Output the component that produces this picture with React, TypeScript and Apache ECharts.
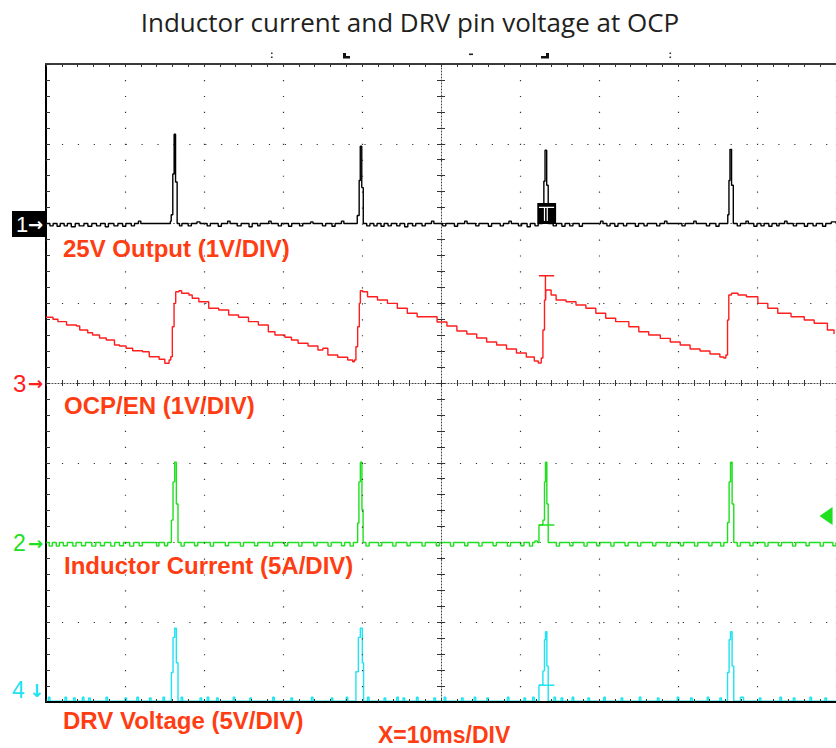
import React, { useEffect, useRef } from "react";
import * as echarts from "echarts";

// Time axis (ms, relative to screen centre) and vertical axis (divisions, centre = 0)
const TIME_MIN = -50;
const TIME_MAX = 50;
const TIME_DIV = 10;
const VDIV_MIN = -4;
const VDIV_MAX = 4;

const TITLE = "Inductor current and DRV pin voltage at OCP";
const CHANNEL_LABELS = [
  "25V Output (1V/DIV)",
  "OCP/EN (1V/DIV)",
  "Inductor Current (5A/DIV)",
  "DRV Voltage (5V/DIV)",
];
const TIMEBASE_LABEL = "X=10ms/DIV";

// Channel 1: 25V output (baseline at +2 div)
const ch1Output: number[][] = [
  [-50.0, 2.0], [-49.5, 1.97], [-49.1, 2.0], [-48.6, 1.965], [-48.2, 2.0], [-47.7, 1.97], [-47.3, 2.0],
  [-46.8, 1.96], [-46.3, 2.0], [-45.8, 1.97], [-45.2, 2.0], [-44.7, 1.965], [-44.2, 2.0], [-43.6, 1.97],
  [-43.1, 2.0], [-42.5, 1.96], [-42.1, 2.0], [-41.4, 1.97], [-40.9, 2.0], [-40.3, 1.965], [-39.9, 2.0],
  [-39.2, 1.97], [-38.8, 2.0], [-38.3, 2.03], [-38.0, 2.0],
  [-34.25, 2.03], [-34.15, 2.11], [-33.95, 2.62], [-33.78, 3.12], [-33.6, 2.52], [-33.4, 2.0],
  [-33.1, 1.97], [-32.8, 2.0], [-32.0, 1.97], [-31.6, 2.0], [-30.9, 2.02], [-30.5, 2.0], [-29.6, 1.97],
  [-29.2, 2.0], [-28.2, 1.965], [-27.8, 2.0], [-27.0, 2.03], [-26.7, 2.0], [-25.8, 1.97], [-25.3, 2.0],
  [-24.3, 1.96], [-23.9, 2.0], [-23.2, 1.97], [-22.9, 2.0], [-21.8, 2.03], [-21.5, 2.0], [-20.6, 1.97],
  [-20.2, 2.0], [-19.3, 1.965], [-18.9, 2.0], [-17.9, 1.97], [-17.5, 2.0], [-16.5, 2.02], [-16.2, 2.0],
  [-15.0, 1.97], [-14.6, 2.0], [-13.8, 1.965], [-13.4, 2.0], [-12.6, 2.03], [-12.3, 2.0],
  [-10.6, 2.1], [-10.36, 2.54], [-10.22, 2.97], [-10.03, 2.45], [-9.84, 2.0],
  [-9.4, 1.97], [-9.0, 2.0], [-8.5, 1.97], [-8.1, 2.0], [-7.6, 1.965], [-7.2, 2.0], [-6.7, 1.97],
  [-6.3, 2.0], [-5.6, 1.97], [-5.2, 2.0], [-4.6, 1.96], [-4.2, 2.0], [-3.6, 1.97], [-3.2, 2.0],
  [-2.4, 1.97], [-2.0, 2.0], [-1.2, 2.03], [-0.9, 2.0], [0.2, 1.97], [0.6, 2.0], [1.7, 1.965], [2.1, 2.0],
  [3.0, 2.03], [3.3, 2.0], [4.4, 1.97], [4.8, 2.0], [6.0, 1.965], [6.4, 2.0], [7.5, 1.97], [7.9, 2.0],
  [8.6, 2.03], [8.9, 2.0], [9.8, 1.97], [10.2, 2.0], [10.9, 1.96], [11.3, 2.0], [11.9, 1.97], [12.3, 2.0],
  [12.85, 2.1], [13.02, 2.53], [13.17, 2.92], [13.38, 2.48], [13.57, 2.0],
  [14.2, 1.97], [14.6, 2.0], [15.3, 1.965], [15.7, 2.0], [16.3, 1.97], [16.7, 2.0], [17.5, 1.965],
  [17.9, 2.0], [20.2, 2.03], [20.5, 2.0], [21.0, 1.97], [21.4, 2.0], [22.0, 1.965], [22.4, 2.0],
  [23.1, 1.97], [23.5, 2.0], [24.6, 1.965], [25.0, 2.0], [25.7, 1.97], [26.1, 2.0], [27.3, 1.97],
  [27.7, 2.0], [28.3, 2.03], [28.6, 2.0], [30.5, 1.97], [30.9, 2.0], [32.0, 2.03], [32.3, 2.0],
  [33.6, 1.97], [34.0, 2.0], [34.8, 1.965], [35.2, 2.0],
  [36.3, 2.11], [36.45, 2.54], [36.58, 2.93], [36.78, 2.48], [37.0, 2.0],
  [37.5, 1.97], [37.9, 2.0], [38.6, 2.03], [38.9, 2.0], [39.6, 1.965], [40.0, 2.0], [40.5, 1.97],
  [40.9, 2.0], [41.5, 1.965], [41.9, 2.0], [42.5, 1.97], [42.8, 2.0], [43.5, 2.03], [43.8, 2.0],
  [44.6, 1.97], [45.0, 2.0], [46.0, 1.965], [46.4, 2.0], [47.1, 1.97], [47.5, 2.0], [48.3, 1.965],
  [48.7, 2.0], [49.4, 2.02], [50.0, 2.0],
];

// Channel 3: OCP/EN sawtooth (baseline at 0 div)
const ch3OcpEn: number[][] = [
  [-50.0, 0.824], [-49.12, 0.799], [-48.49, 0.769], [-47.4, 0.727], [-46.14, 0.715], [-45.73, 0.665],
  [-44.72, 0.631], [-44.1, 0.602], [-43.22, 0.564], [-42.37, 0.539], [-41.33, 0.476], [-40.7, 0.464],
  [-39.86, 0.435], [-39.03, 0.405], [-37.78, 0.392], [-36.93, 0.33], [-35.68, 0.297], [-34.96, 0.247],
  [-34.42, 0.288], [-34.21, 0.33], [-34.01, 0.706], [-33.79, 0.999], [-33.58, 1.145], [-33.17, 1.157],
  [-32.83, 1.125], [-31.91, 1.103], [-31.49, 1.062], [-30.65, 1.019], [-29.4, 0.937], [-28.14, 0.915],
  [-26.88, 0.853], [-25.63, 0.824], [-24.37, 0.769], [-23.12, 0.727], [-21.86, 0.643], [-21.02, 0.602],
  [-19.76, 0.573], [-18.93, 0.539], [-18.09, 0.498], [-16.83, 0.464], [-15.58, 0.414], [-14.95, 0.435],
  [-14.32, 0.351], [-13.07, 0.322], [-11.81, 0.288], [-11.18, 0.267], [-10.97, 0.288], [-10.77, 0.455],
  [-10.55, 0.706], [-10.34, 0.999], [-10.21, 1.157], [-9.92, 1.145], [-9.3, 1.082], [-8.04, 1.041],
  [-6.78, 0.999], [-5.53, 0.937], [-4.27, 0.874], [-3.02, 0.831], [-0.5, 0.765], [0.75, 0.715],
  [2.01, 0.652], [3.27, 0.614], [4.52, 0.564], [5.78, 0.514], [7.04, 0.476], [8.29, 0.426],
  [9.55, 0.376], [10.8, 0.326], [11.81, 0.276], [12.31, 0.251], [12.69, 0.313], [12.9, 0.665],
  [13.1, 1.041], [13.25, 1.145], [13.32, 1.166], [13.94, 1.103], [14.57, 1.041], [15.83, 1.019],
  [17.09, 0.978], [18.34, 0.937], [19.6, 0.874], [20.85, 0.811], [22.11, 0.769], [23.78, 0.706],
  [25.04, 0.643], [26.29, 0.602], [27.76, 0.56], [29.02, 0.514], [30.28, 0.476], [31.53, 0.426],
  [32.79, 0.401], [34.05, 0.364], [35.3, 0.326], [35.8, 0.313], [36.06, 0.351], [36.27, 0.79],
  [36.43, 1.103], [36.77, 1.125], [37.6, 1.103], [38.66, 1.082], [40.11, 0.999], [41.37, 0.937],
  [42.63, 0.874], [44.31, 0.831], [45.98, 0.79], [47.24, 0.749], [48.91, 0.665], [49.75, 0.614],
];

// Channel 2: inductor current (baseline at -2 div)
const ch2Current: number[][] = [
  [-50.0, -2.0], [-49.6, -2.045], [-49.2, -2.0], [-48.7, -2.045], [-48.3, -2.0], [-47.8, -2.04], [-47.3, -2.0],
  [-46.6, -2.045], [-46.2, -2.0], [-45.5, -2.04], [-45.0, -2.0], [-44.2, -2.045], [-43.7, -2.0], [-43.1, -2.04],
  [-42.6, -2.0], [-41.8, -2.045], [-41.3, -2.0], [-40.7, -2.04], [-40.2, -2.0], [-39.4, -2.045], [-38.9, -2.0],
  [-38.2, -2.04], [-37.8, -2.0], [-36.0, -2.045], [-35.7, -2.0], [-35.0, -2.04], [-34.6, -2.0],
  [-34.13, -1.72], [-33.92, -1.24], [-33.71, -0.994], [-33.5, -1.517], [-33.29, -2.0],
  [-32.9, -2.045], [-32.5, -2.0], [-31.2, -2.04], [-30.8, -2.0], [-29.2, -2.045], [-28.8, -2.0], [-27.3, -2.04],
  [-26.9, -2.0], [-25.4, -2.045], [-25.0, -2.0], [-23.6, -2.04], [-23.2, -2.0], [-21.7, -2.045], [-21.3, -2.0],
  [-19.8, -2.04], [-19.4, -2.0], [-18.0, -2.045], [-17.6, -2.0], [-16.1, -2.04], [-15.7, -2.0], [-14.3, -2.045],
  [-13.9, -2.0], [-12.6, -2.04], [-12.2, -2.0], [-11.5, -2.045], [-11.1, -2.0],
  [-10.55, -1.755], [-10.39, -1.24], [-10.21, -0.994], [-10.01, -1.59], [-9.86, -2.0],
  [-9.5, -2.045], [-9.1, -2.0], [-7.9, -2.04], [-7.5, -2.0], [-6.1, -2.045], [-5.7, -2.0], [-4.3, -2.04],
  [-3.9, -2.0], [-2.4, -2.045], [-2.0, -2.0], [-0.6, -2.04], [-0.2, -2.0], [1.2, -2.045], [1.6, -2.0],
  [3.0, -2.04], [3.4, -2.0], [4.8, -2.045], [5.2, -2.0], [6.6, -2.04], [7.0, -2.0], [8.4, -2.045], [8.8, -2.0],
  [10.1, -2.04], [10.5, -2.0], [11.2, -2.045], [11.6, -2.0], [11.9, -1.98], [12.2, -2.0],
  [12.4, -1.78], [12.9, -1.72], [13.1, -1.24], [13.23, -0.994], [13.4, -1.517], [13.57, -2.0],
  [14.6, -2.045], [15.0, -2.0], [16.3, -2.04], [16.7, -2.0], [18.1, -2.045], [18.5, -2.0], [19.7, -2.04],
  [20.1, -2.0], [21.5, -2.045], [21.9, -2.0], [23.3, -2.04], [23.7, -2.0], [24.9, -2.045], [25.3, -2.0],
  [26.8, -2.04], [27.2, -2.0], [28.6, -2.045], [29.0, -2.0], [30.3, -2.04], [30.7, -2.0], [32.1, -2.045],
  [32.5, -2.0], [33.9, -2.04], [34.3, -2.0], [35.4, -2.045], [35.8, -2.0],
  [36.27, -1.75], [36.47, -1.24], [36.65, -0.994], [36.85, -1.517], [37.06, -2.0],
  [37.5, -2.045], [37.9, -2.0], [39.1, -2.04], [39.5, -2.0], [41.0, -2.045], [41.4, -2.0], [42.7, -2.04],
  [43.1, -2.0], [44.5, -2.045], [44.9, -2.0], [46.2, -2.04], [46.6, -2.0], [48.0, -2.045], [48.4, -2.0],
  [49.6, -2.04], [50.0, -2.0],
];

// Channel 4: DRV voltage (baseline just above the bottom edge)
const ch4Drv: number[][] = [
  [-50.0, -3.99], [-49.7, -3.94], [-49.5, -3.99], [-47.6, -3.94], [-47.4, -3.99], [-46.5, -3.95], [-46.3, -3.99],
  [-45.4, -3.94], [-45.2, -3.99], [-44.6, -3.95], [-44.4, -3.99], [-42.4, -3.94], [-42.2, -3.99], [-40.0, -3.95],
  [-39.8, -3.99], [-38.5, -3.94], [-38.3, -3.99], [-36.9, -3.95], [-36.7, -3.99], [-35.2, -3.94], [-35.0, -3.99],
  [-34.13, -3.63], [-33.92, -3.19], [-33.71, -3.076], [-33.5, -3.507], [-33.29, -3.99],
  [-32.9, -3.94], [-32.7, -3.99], [-30.5, -3.95], [-30.3, -3.99], [-29.6, -3.94], [-29.4, -3.99], [-28.4, -3.95],
  [-28.2, -3.99], [-26.3, -3.94], [-26.1, -3.99], [-24.2, -3.95], [-24.0, -3.99], [-21.3, -3.94], [-21.1, -3.99],
  [-19.0, -3.95], [-18.8, -3.99], [-16.4, -3.94], [-16.2, -3.99], [-13.9, -3.95], [-13.7, -3.99], [-12.0, -3.94],
  [-11.8, -3.99],
  [-10.77, -3.62], [-10.46, -3.19], [-10.21, -3.076], [-9.96, -3.507], [-9.8, -3.99],
  [-9.3, -3.94], [-9.1, -3.99], [-7.2, -3.95], [-7.0, -3.99], [-5.6, -3.94], [-5.4, -3.99], [-4.8, -3.95],
  [-4.6, -3.99], [-3.1, -3.94], [-2.9, -3.99], [-0.9, -3.95], [-0.7, -3.99], [0.4, -3.94], [0.6, -3.99],
  [2.6, -3.95], [2.8, -3.99], [4.2, -3.94], [4.4, -3.99], [5.8, -3.95], [6.0, -3.99], [8.4, -3.94], [8.6, -3.99],
  [10.5, -3.95], [10.7, -3.99], [11.6, -3.94], [11.8, -3.99],
  [12.4, -3.79], [12.9, -3.61], [13.1, -3.22], [13.23, -3.12], [13.4, -3.55], [13.57, -3.99],
  [14.3, -3.94], [14.5, -3.99], [15.2, -3.95], [15.4, -3.99], [16.6, -3.94], [16.8, -3.99], [18.6, -3.95],
  [18.8, -3.99], [20.6, -3.94], [20.8, -3.99], [22.8, -3.95], [23.0, -3.99], [25.1, -3.94], [25.3, -3.99],
  [27.4, -3.95], [27.6, -3.99], [29.9, -3.94], [30.1, -3.99], [31.6, -3.95], [31.8, -3.99], [33.7, -3.94],
  [33.9, -3.99], [35.3, -3.95], [35.5, -3.99],
  [36.27, -3.63], [36.47, -3.22], [36.65, -3.12], [36.85, -3.55], [37.06, -3.99],
  [37.9, -3.94], [38.3, -3.99], [40.3, -3.95], [40.5, -3.99], [42.9, -3.94], [43.1, -3.99], [44.6, -3.95],
  [44.8, -3.99], [46.7, -3.94], [46.9, -3.99], [48.6, -3.95], [48.8, -3.99], [50.0, -3.99],
];

// Trigger markers drawn by the scope at the third pulse
const trigRedT: number[][] = [[12.4, 1.345], [13.22, 1.345], [13.22, 1.06], [13.22, 1.345], [14.32, 1.345]];
const trigGreenT: number[][] = [[12.4, -1.78], [14.36, -1.78]];
const trigCyanT: number[][] = [[12.4, -3.79], [14.36, -3.79]];
const trigBoxCorners: number[][] = [[12.19, 2.257], [14.57, 1.994]];
const trigBoxInner: number[][] = [
  [12.4, 2.203], [13.1, 2.203], [13.1, 2.03], [13.1, 2.203], [13.45, 2.203], [13.45, 2.03], [13.45, 2.203], [14.32, 2.203],
];
const greenLevelMarker: number[] = [48.74, -1.668];

const COL_BLACK = "#000000";
const COL_RED = "#ff1e1e";
const COL_GREEN = "#1ee01e";
const COL_CYAN = "#1ee3f0";
const COL_LABEL = "#ff3d12";
const GRID_COL = "#333333";
const LABEL_FONT = "'Liberation Sans', Arial, sans-serif";
const ARROW_FONT = "'DejaVu Sans', sans-serif";

function edgeTicks(len: number) {
  return {
    axisTick: { show: true, inside: true, length: len, lineStyle: { color: GRID_COL, width: 1 } },
    minorTick: { show: true, splitNumber: 5, length: len, lineStyle: { color: GRID_COL, width: 1 } },
  };
}

function marker(digit: string, arrow: string, x: number, y: number, color: string, size: number, arrowX: number) {
  return [
    { type: "text", x, y, style: { text: digit, fill: color, fontSize: size, fontFamily: LABEL_FONT, verticalAlign: "middle" } },
    { type: "text", x: arrowX, y: y, style: { text: arrow, fill: color, fontSize: 18, fontWeight: "bold", fontFamily: ARROW_FONT, verticalAlign: "middle" } },
  ];
}

export default function App() {
  const ref = useRef<HTMLDivElement>(null);

  useEffect(() => {
    if (!ref.current) return;
    const chart = echarts.init(ref.current, undefined, { renderer: "svg" });

    const xBase = { type: "value", min: TIME_MIN, max: TIME_MAX, interval: TIME_DIV, axisLabel: { show: false } };
    const yBase = { type: "value", min: VDIV_MIN, max: VDIV_MAX, interval: 1, axisLabel: { show: false } };

    const traceSeries = (name: string, data: number[][], color: string, extra: any = {}) => ({
      name,
      type: "line",
      data,
      step: "end",
      showSymbol: false,
      silent: true,
      lineStyle: { color, width: 1.4 },
      itemStyle: { color },
      z: 2,
      ...extra,
    });

    const plain = (data: number[][], color: string, z = 3) => ({
      type: "line",
      data,
      showSymbol: false,
      silent: true,
      lineStyle: { color, width: 1.4 },
      itemStyle: { color },
      z,
    });

    const option: any = {
      animation: false,
      grid: { left: 46, top: 64, width: 796, height: 638, containLabel: false },
      xAxis: [
        {
          ...xBase,
          position: "bottom",
          z: 3,
          axisLine: { show: true, onZero: false, lineStyle: { color: "#000", width: 2 } },
          ...edgeTicks(3),
          splitLine: { show: true, lineStyle: { color: GRID_COL, width: 1.2, type: [1.2, 14.75] } },
        },
        {
          ...xBase,
          position: "bottom",
          axisLine: { show: true, onZero: true, onZeroAxisIndex: 0, lineStyle: { color: "#444", width: 1, type: [1, 2] } },
          axisTick: { show: true, inside: true, length: 3, lineStyle: { color: GRID_COL } },
          minorTick: { show: true, splitNumber: 5, length: 3, lineStyle: { color: GRID_COL } },
          splitLine: { show: false },
        },
        {
          ...xBase,
          position: "bottom",
          axisLine: { show: false, onZero: true, onZeroAxisIndex: 0 },
          axisTick: { show: true, inside: false, length: 3, lineStyle: { color: GRID_COL } },
          minorTick: { show: true, splitNumber: 5, length: 3, lineStyle: { color: GRID_COL } },
          splitLine: { show: false },
        },
        {
          ...xBase,
          position: "top",
          axisLine: { show: true, onZero: false, lineStyle: { color: "#3a3a3a", width: 2 } },
          ...edgeTicks(3),
          splitLine: { show: false },
        },
      ],
      yAxis: [
        {
          ...yBase,
          position: "left",
          axisLine: { show: true, onZero: false, lineStyle: { color: "#000", width: 2 } },
          ...edgeTicks(4),
          splitLine: { show: true, lineStyle: { color: GRID_COL, width: 1.2, type: [1.2, 14.72] } },
        },
        {
          ...yBase,
          position: "left",
          axisLine: { show: true, onZero: true, onZeroAxisIndex: 0, lineStyle: { color: "#444", width: 1, type: [1, 2] } },
          axisTick: { show: true, inside: true, length: 4, lineStyle: { color: GRID_COL } },
          minorTick: { show: true, splitNumber: 5, length: 4, lineStyle: { color: GRID_COL } },
          splitLine: { show: false },
        },
        {
          ...yBase,
          position: "left",
          axisLine: { show: false, onZero: true, onZeroAxisIndex: 0 },
          axisTick: { show: true, inside: false, length: 4, lineStyle: { color: GRID_COL } },
          minorTick: { show: true, splitNumber: 5, length: 4, lineStyle: { color: GRID_COL } },
          splitLine: { show: false },
        },
      ],
      series: [
        traceSeries(CHANNEL_LABELS[3], ch4Drv, COL_CYAN),
        traceSeries(CHANNEL_LABELS[2], ch2Current, COL_GREEN, {
          markPoint: {
            silent: true,
            symbol: "triangle",
            symbolSize: [18, 13],
            symbolRotate: 90,
            label: { show: false },
            itemStyle: { color: COL_GREEN },
            data: [{ coord: greenLevelMarker }],
          },
        }),
        traceSeries(CHANNEL_LABELS[1], ch3OcpEn, COL_RED),
        traceSeries(CHANNEL_LABELS[0], ch1Output, COL_BLACK),
        plain(trigRedT, COL_RED),
        plain(trigGreenT, COL_GREEN),
        plain(trigCyanT, COL_CYAN),
        {
          type: "line",
          data: [],
          silent: true,
          z: 6,
          markArea: {
            silent: true,
            label: { show: false },
            itemStyle: { color: "#000", opacity: 1 },
            data: [[{ coord: trigBoxCorners[0] }, { coord: trigBoxCorners[1] }]],
          },
        },
        { ...plain(trigBoxInner, "#ffffff", 7), lineStyle: { color: "#ffffff", width: 1.2 } },
      ],
      graphic: [
        {
          type: "text",
          x: 410,
          y: 22,
          style: {
            text: TITLE,
            fill: "#231f20",
            fontSize: 26,
            fontFamily: "'Open Sans', 'Noto Sans', sans-serif",
            align: "center",
            verticalAlign: "middle",
          },
        },
        // scope top-edge markers
        { type: "rect", shape: { x: 271, y: 52.5, width: 1.6, height: 1.6 }, style: { fill: "#333" } },
        { type: "rect", shape: { x: 271, y: 56.5, width: 1.6, height: 1.6 }, style: { fill: "#333" } },
        { type: "polygon", shape: { points: [[343, 53], [346, 53], [346, 56], [350, 56], [350, 58.5], [343, 58.5]] }, style: { fill: "#111" } },
        { type: "rect", shape: { x: 469, y: 53.5, width: 4, height: 1.6 }, style: { fill: "#222" } },
        { type: "polygon", shape: { points: [[546, 53], [549, 53], [549, 58.5], [541, 58.5], [541, 56], [546, 56]] }, style: { fill: "#111" } },
        { type: "rect", shape: { x: 669.5, y: 52.5, width: 1.6, height: 1.6 }, style: { fill: "#333" } },
        { type: "rect", shape: { x: 669.5, y: 56.5, width: 1.6, height: 1.6 }, style: { fill: "#333" } },
        // channel ground markers
        { type: "rect", shape: { x: 12, y: 211, width: 34, height: 26 }, style: { fill: "#000" } },
        ...marker("1", "→", 16, 224, "#ffffff", 22, 28),
        ...marker("3", "→", 13, 383, COL_RED, 24, 28),
        ...marker("2", "→", 13, 543, COL_GREEN, 23, 28),
        ...marker("4", "↓", 12, 690, COL_CYAN, 23, 29),
        // channel labels
        { type: "text", x: 63, y: 248, style: { text: CHANNEL_LABELS[0], fill: COL_LABEL, fontSize: 24, fontWeight: "bold", fontFamily: LABEL_FONT, verticalAlign: "middle" } },
        { type: "text", x: 64, y: 405, style: { text: CHANNEL_LABELS[1], fill: COL_LABEL, fontSize: 24, fontWeight: "bold", fontFamily: LABEL_FONT, verticalAlign: "middle" } },
        { type: "text", x: 64, y: 565, style: { text: CHANNEL_LABELS[2], fill: COL_LABEL, fontSize: 24, fontWeight: "bold", fontFamily: LABEL_FONT, verticalAlign: "middle" } },
        { type: "text", x: 63, y: 720, style: { text: CHANNEL_LABELS[3], fill: COL_LABEL, fontSize: 24, fontWeight: "bold", fontFamily: LABEL_FONT, verticalAlign: "middle" } },
        { type: "text", x: 378, y: 735, style: { text: TIMEBASE_LABEL, fill: COL_LABEL, fontSize: 23, fontWeight: "bold", fontFamily: LABEL_FONT, verticalAlign: "middle" } },
      ],
    };

    chart.setOption(option);
    return () => chart.dispose();
  }, []);

  return (
    <div
      ref={ref}
      style={{ position: "absolute", left: 0, top: 0, width: 836, height: 748, background: "#ffffff" }}
    />
  );
}
